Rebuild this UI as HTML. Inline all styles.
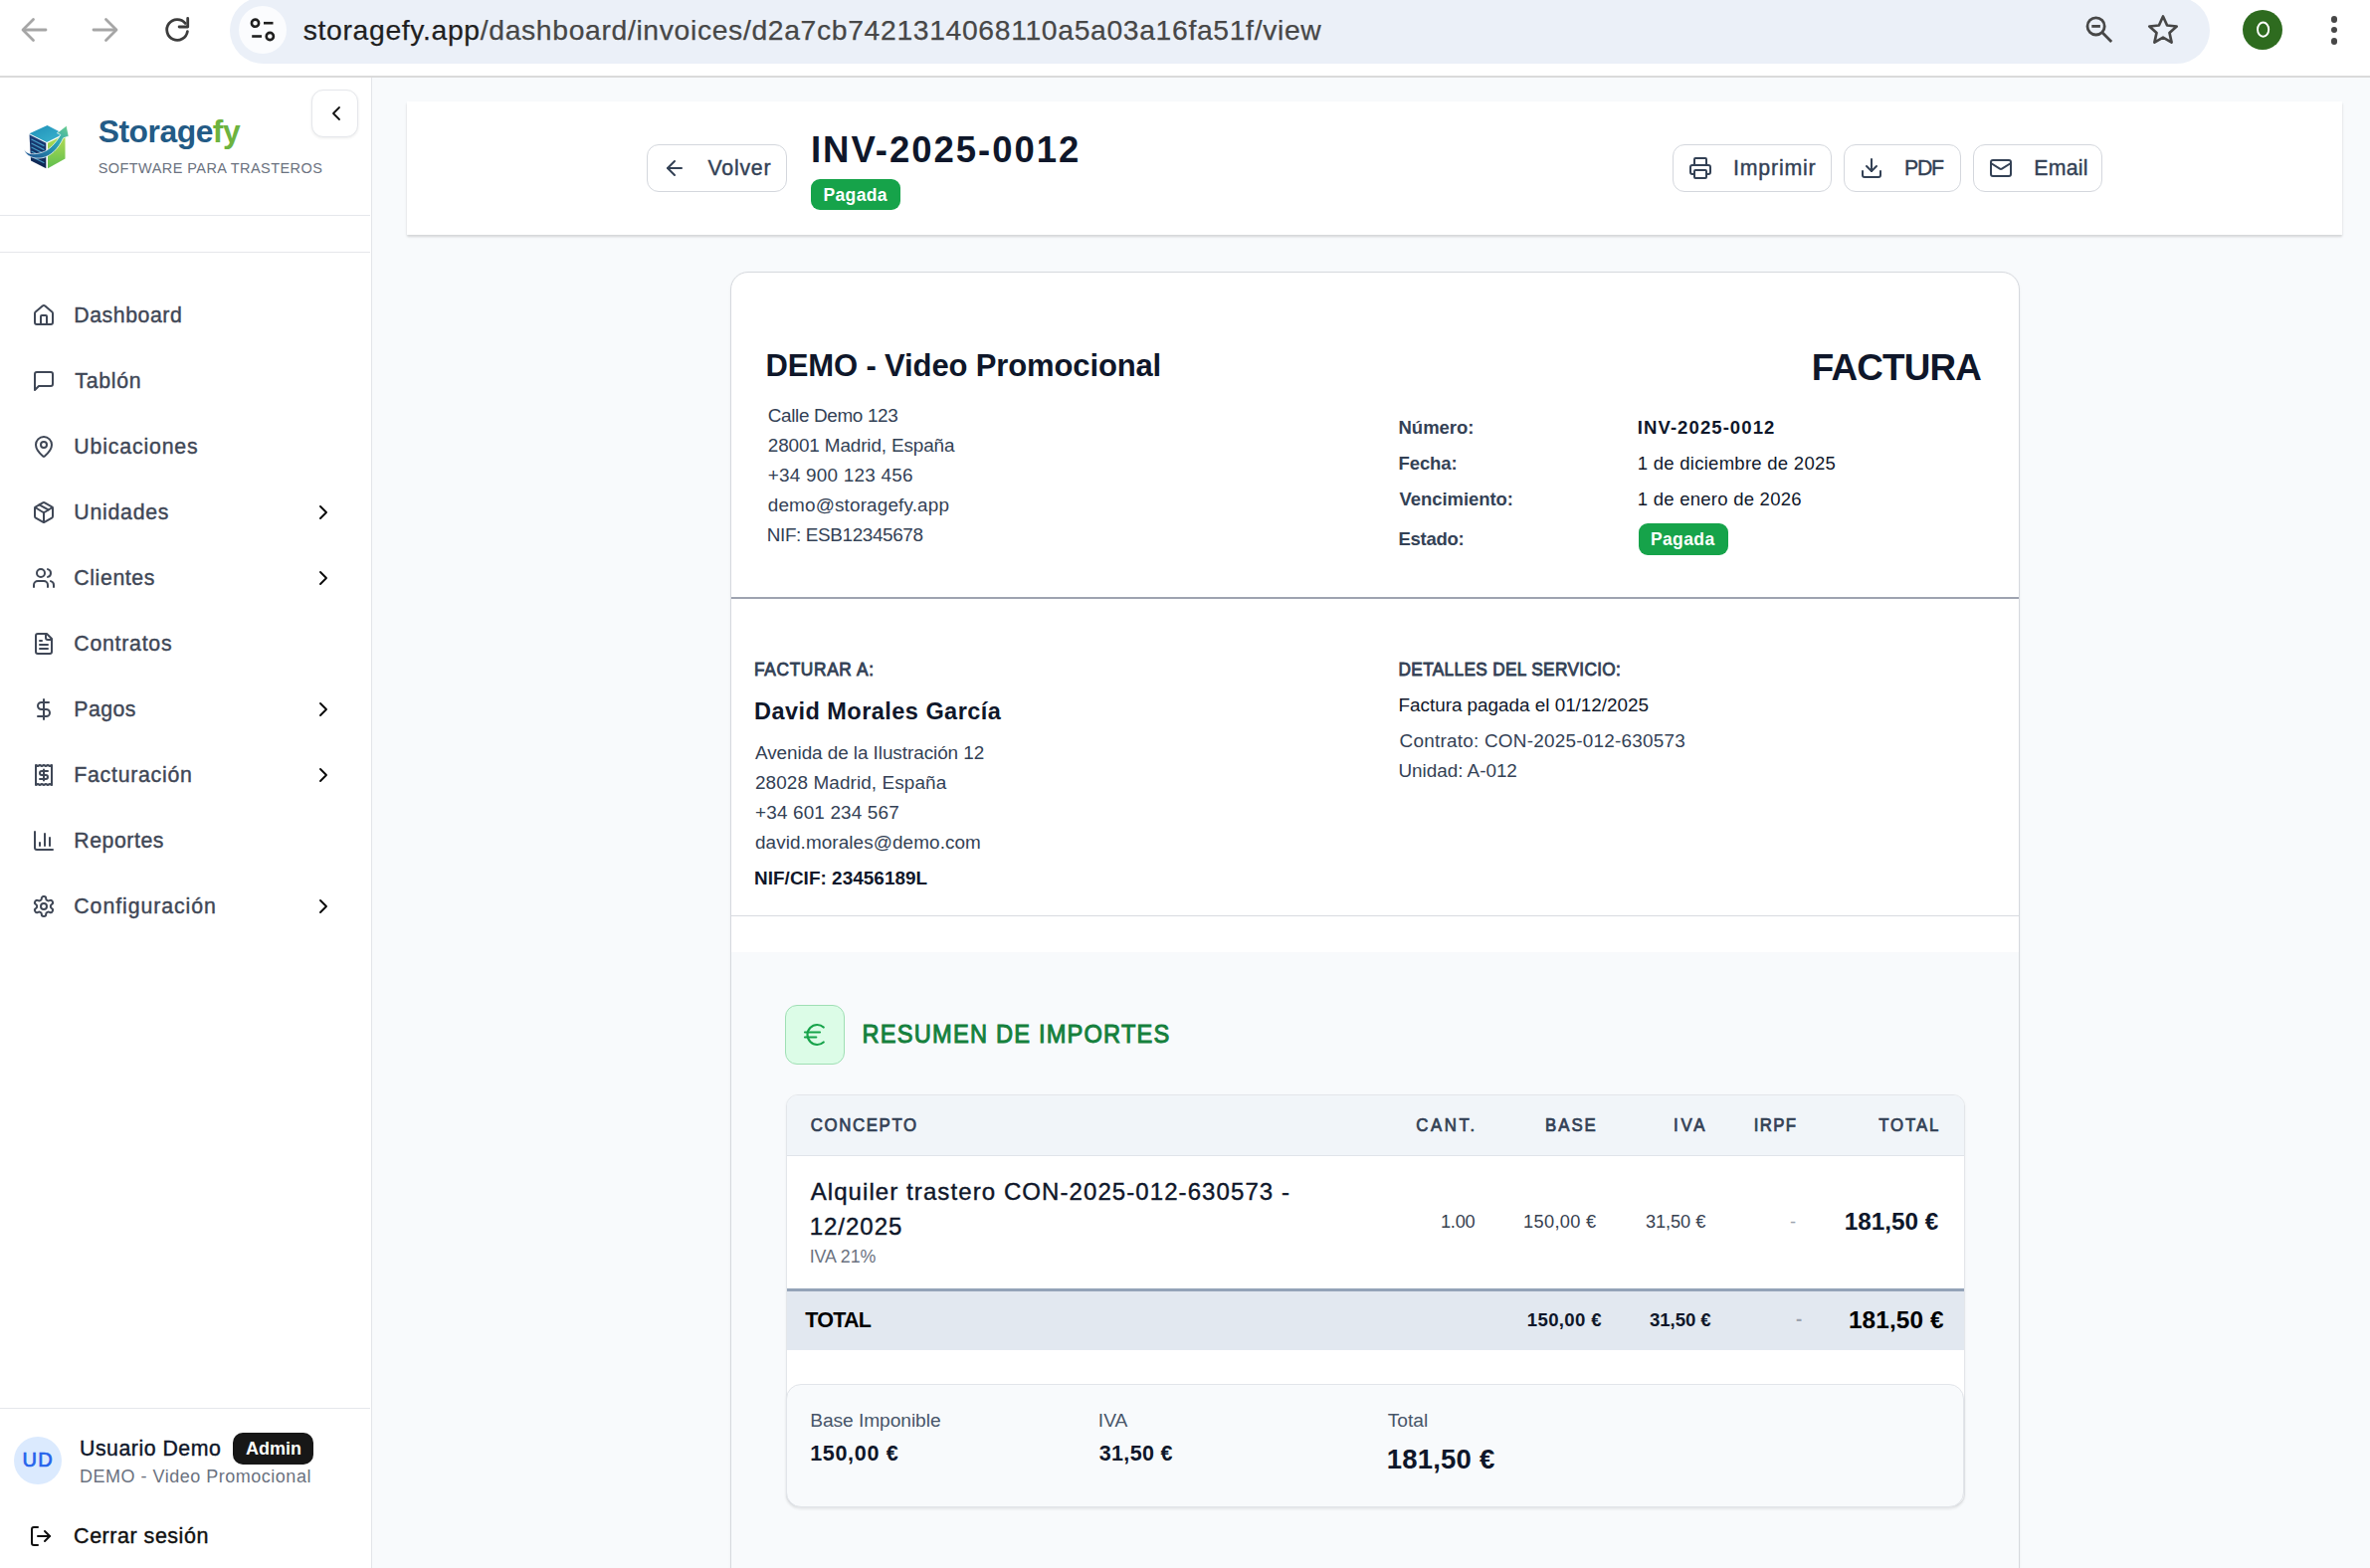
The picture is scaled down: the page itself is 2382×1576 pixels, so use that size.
<!DOCTYPE html>
<html><head><meta charset="utf-8">
<style>
*{box-sizing:border-box;margin:0;padding:0}
html,body{width:2382px;height:1576px;overflow:hidden;background:#f8fafc;font-family:"Liberation Sans",sans-serif}
.a{position:absolute}
.t{position:absolute;white-space:nowrap;line-height:1;font-family:"Liberation Sans",sans-serif}
svg.i{position:absolute;fill:none;stroke-linecap:round;stroke-linejoin:round}
</style></head><body>
<!-- browser chrome -->
<div class="a" style="left:0;top:0;width:2382px;height:76px;background:#fff"></div>
<div class="a" style="left:0;top:76px;width:2382px;height:2px;background:#dadada"></div>
<div class="a" style="left:231px;top:-3px;width:1990px;height:67px;border-radius:34px;background:#ebf0f8"></div>
<div class="a" style="left:240px;top:6px;width:48px;height:48px;border-radius:24px;background:#fbfcfe"></div>
<svg class="i" style="left:240px;top:6px" width="48" height="48" viewBox="0 0 48 48" stroke="#1f1f1f" stroke-width="2.6">
 <circle cx="16.5" cy="17.2" r="3.6"/><path d="M25 17.2h9.5" stroke-linecap="butt"/>
 <circle cx="31.3" cy="30.5" r="3.6"/><path d="M13.2 30.5h9.8" stroke-linecap="butt"/>
</svg>
<svg class="i" style="left:16px;top:12px" width="36" height="36" viewBox="0 0 36 36" stroke="#a6a6a6" stroke-width="2.8" stroke-linecap="butt" stroke-linejoin="miter">
 <path d="M30 18H8"/><path d="M17.5 7.5L7 18l10.5 10.5"/>
</svg>
<svg class="i" style="left:88px;top:12px" width="36" height="36" viewBox="0 0 36 36" stroke="#a6a6a6" stroke-width="2.8" stroke-linecap="butt" stroke-linejoin="miter">
 <path d="M6 18h22"/><path d="M18.5 7.5L29 18 18.5 28.5"/>
</svg>
<svg class="i" style="left:160px;top:12px" width="36" height="36" viewBox="0 0 36 36" stroke="#3c3c3c" stroke-width="2.8" stroke-linecap="butt" stroke-linejoin="miter">
 <path d="M28.4 19.6A10.4 10.4 0 1 1 26.2 11.4"/><path d="M28.7 6.4v8.6h-8.6"/>
</svg>
<svg class="i" style="left:2092px;top:12px" width="36" height="36" viewBox="0 0 36 36" stroke="#474747" stroke-width="2.8">
 <circle cx="14.6" cy="14.4" r="8.6"/><path d="M21 20.8l9.2 9.2" stroke-linecap="butt"/><path d="M10.3 14.4h8.6" stroke-linecap="butt"/>
</svg>
<svg class="i" style="left:2156px;top:12px" width="36" height="36" viewBox="0 0 36 36" stroke="#474747" stroke-width="2.7" stroke-linejoin="miter">
 <path d="M18 4.5l4.1 9 9.6 1-7.2 6.5 2.1 9.6L18 25.7l-8.6 4.9 2.1-9.6-7.2-6.5 9.6-1z"/>
</svg>
<div class="a" style="left:2254px;top:10px;width:40px;height:40px;border-radius:20px;background:#2e6b1f"></div>
<svg class="i" style="left:2254px;top:10px" width="40" height="40" viewBox="0 0 40 40" stroke="#fff" stroke-width="1.9"><ellipse cx="20.6" cy="19.6" rx="5.6" ry="7.1"/></svg>
<div class="a" style="left:2342.5px;top:16.3px;width:6.5px;height:6.5px;border-radius:4px;background:#474747"></div>
<div class="a" style="left:2342.5px;top:26.9px;width:6.5px;height:6.5px;border-radius:4px;background:#474747"></div>
<div class="a" style="left:2342.5px;top:38px;width:6.5px;height:6.5px;border-radius:4px;background:#474747"></div>

<!-- sidebar -->
<div class="a" style="left:0;top:78px;width:374px;height:1498px;background:#fff;border-right:1.5px solid #e3e5e9"></div>
<div class="a" style="left:0;top:216px;width:372px;height:1px;background:#e5e7eb"></div>
<div class="a" style="left:0;top:253px;width:372px;height:1px;background:#e5e7eb"></div>
<div class="a" style="left:0;top:1415px;width:372px;height:1px;background:#e5e7eb"></div>
<!-- logo -->
<svg class="a" style="left:20px;top:120px" width="54" height="54" viewBox="20 120 54 54">
 <defs>
  <linearGradient id="gt" x1="0" y1="0" x2="1" y2="1"><stop offset="0" stop-color="#1f8fb8"/><stop offset="1" stop-color="#3cb6cf"/></linearGradient>
  <linearGradient id="gl" x1="0" y1="0" x2="0" y2="1"><stop offset="0" stop-color="#1d3f7a"/><stop offset="1" stop-color="#0d2550"/></linearGradient>
  <linearGradient id="gr" x1="0" y1="0" x2="0" y2="1"><stop offset="0" stop-color="#b6dc55"/><stop offset="1" stop-color="#5fbf4e"/></linearGradient>
  <linearGradient id="gs" x1="0" y1="1" x2="1" y2="0"><stop offset="0" stop-color="#1c4e8f"/><stop offset=".6" stop-color="#2aa3b8"/><stop offset="1" stop-color="#6fd08a"/></linearGradient>
 </defs>
 <path d="M47.5 126L29.5 134.3 47 143 64 134.5z" fill="url(#gt)"/>
 <path d="M29.5 135.2L46.3 143.8V169.3L31 161.5z" fill="url(#gl)"/>
 <path d="M48 143.8L65.5 135.3V159.5L48 169.3z" fill="url(#gr)"/>
 <path d="M31.5 140l13 6.6M31.5 144l13 6.6M31.5 148l13 6.6M31.5 152l13 6.6M33 158l11.5 5.8" stroke="#4aa6cf" stroke-width="1.2" opacity=".9"/>
 <path d="M24.4 150.5C26 157 34 160.2 42 158.8C50.5 157.3 58.5 150 63.6 138.8L69.1 136.9 66.9 126.2 57.4 133.7 60.8 135.4C56 144 49.5 151 42 153.3 34 155.7 27.5 155.3 24.4 150.5z" fill="url(#gs)" stroke="#fff" stroke-width=".7"/>
</svg>
<!-- collapse button -->
<div class="a" style="left:313px;top:90px;width:47px;height:48px;border-radius:12px;background:#fff;border:1px solid #e5e7eb;box-shadow:0 1px 3px rgba(0,0,0,.08)"></div>
<svg class="i" style="left:325.5px;top:102px" width="24" height="24" viewBox="0 0 24 24" stroke="#111" stroke-width="1.8"><path d="m15 18-6-6 6-6"/></svg>
<!-- nav icons -->
<svg class="i" style="left:32px;top:305.2px" width="24" height="24" viewBox="0 0 24 24" stroke="#3f4756" stroke-width="2"><path d="M15 21v-8a1 1 0 0 0-1-1h-4a1 1 0 0 0-1 1v8"/><path d="M3 10a2 2 0 0 1 .709-1.528l7-5.999a2 2 0 0 1 2.582 0l7 5.999A2 2 0 0 1 21 10v9a2 2 0 0 1-2 2H5a2 2 0 0 1-2-2z"/></svg>
<svg class="i" style="left:32px;top:371.2px" width="24" height="24" viewBox="0 0 24 24" stroke="#3f4756" stroke-width="2"><path d="M21 15a2 2 0 0 1-2 2H7l-4 4V5a2 2 0 0 1 2-2h14a2 2 0 0 1 2 2z"/></svg>
<svg class="i" style="left:32px;top:437.2px" width="24" height="24" viewBox="0 0 24 24" stroke="#3f4756" stroke-width="2"><path d="M20 10c0 4.993-5.539 10.193-7.399 11.799a1 1 0 0 1-1.202 0C9.539 20.193 4 14.993 4 10a8 8 0 0 1 16 0"/><circle cx="12" cy="10" r="3"/></svg>
<svg class="i" style="left:32px;top:503.2px" width="24" height="24" viewBox="0 0 24 24" stroke="#3f4756" stroke-width="2"><path d="M11 21.73a2 2 0 0 0 2 0l7-4A2 2 0 0 0 21 16V8a2 2 0 0 0-1-1.73l-7-4a2 2 0 0 0-2 0l-7 4A2 2 0 0 0 3 8v8a2 2 0 0 0 1 1.73z"/><path d="M12 22V12"/><path d="m3.3 7 7.703 4.734a2 2 0 0 0 1.994 0L20.7 7"/><path d="m7.5 4.27 9 5.15"/></svg>
<svg class="i" style="left:312.8px;top:503.2px" width="24" height="24" viewBox="0 0 24 24" stroke="#0a0a0a" stroke-width="1.9"><path d="m9 18 6-6-6-6"/></svg>
<svg class="i" style="left:32px;top:569.2px" width="24" height="24" viewBox="0 0 24 24" stroke="#3f4756" stroke-width="2"><path d="M16 21v-2a4 4 0 0 0-4-4H6a4 4 0 0 0-4 4v2"/><circle cx="9" cy="7" r="4"/><path d="M22 21v-2a4 4 0 0 0-3-3.87"/><path d="M16 3.13a4 4 0 0 1 0 7.75"/></svg>
<svg class="i" style="left:312.8px;top:569.2px" width="24" height="24" viewBox="0 0 24 24" stroke="#0a0a0a" stroke-width="1.9"><path d="m9 18 6-6-6-6"/></svg>
<svg class="i" style="left:32px;top:635.2px" width="24" height="24" viewBox="0 0 24 24" stroke="#3f4756" stroke-width="2"><path d="M15 2H6a2 2 0 0 0-2 2v16a2 2 0 0 0 2 2h12a2 2 0 0 0 2-2V7Z"/><path d="M14 2v4a2 2 0 0 0 2 2h4"/><path d="M10 9H8"/><path d="M16 13H8"/><path d="M16 17H8"/></svg>
<svg class="i" style="left:32px;top:701.2px" width="24" height="24" viewBox="0 0 24 24" stroke="#3f4756" stroke-width="2"><line x1="12" x2="12" y1="2" y2="22"/><path d="M17 5H9.5a3.5 3.5 0 0 0 0 7h5a3.5 3.5 0 0 1 0 7H6"/></svg>
<svg class="i" style="left:312.8px;top:701.2px" width="24" height="24" viewBox="0 0 24 24" stroke="#0a0a0a" stroke-width="1.9"><path d="m9 18 6-6-6-6"/></svg>
<svg class="i" style="left:32px;top:767.2px" width="24" height="24" viewBox="0 0 24 24" stroke="#3f4756" stroke-width="2"><path d="M4 2v20l2-1 2 1 2-1 2 1 2-1 2 1 2-1 2 1V2l-2 1-2-1-2 1-2-1-2 1-2-1-2 1Z"/><path d="M16 8h-6a2 2 0 1 0 0 4h4a2 2 0 1 1 0 4H8"/><path d="M12 17.5v-11"/></svg>
<svg class="i" style="left:312.8px;top:767.2px" width="24" height="24" viewBox="0 0 24 24" stroke="#0a0a0a" stroke-width="1.9"><path d="m9 18 6-6-6-6"/></svg>
<svg class="i" style="left:32px;top:833.2px" width="24" height="24" viewBox="0 0 24 24" stroke="#3f4756" stroke-width="2"><path d="M3 3v16a2 2 0 0 0 2 2h16"/><path d="M18 17V9"/><path d="M13 17V5"/><path d="M8 17v-3"/></svg>
<svg class="i" style="left:32px;top:899.2px" width="24" height="24" viewBox="0 0 24 24" stroke="#3f4756" stroke-width="2"><path d="M12.22 2h-.44a2 2 0 0 0-2 2v.18a2 2 0 0 1-1 1.73l-.43.25a2 2 0 0 1-2 0l-.15-.08a2 2 0 0 0-2.73.73l-.22.38a2 2 0 0 0 .73 2.73l.15.1a2 2 0 0 1 1 1.72v.51a2 2 0 0 1-1 1.74l-.15.09a2 2 0 0 0-.73 2.73l.22.38a2 2 0 0 0 2.73.73l.15-.08a2 2 0 0 1 2 0l.43.25a2 2 0 0 1 1 1.73V20a2 2 0 0 0 2 2h.44a2 2 0 0 0 2-2v-.18a2 2 0 0 1 1-1.73l.43-.25a2 2 0 0 1 2 0l.15.08a2 2 0 0 0 2.73-.73l.22-.39a2 2 0 0 0-.73-2.73l-.15-.08a2 2 0 0 1-1-1.74v-.5a2 2 0 0 1 1-1.74l.15-.09a2 2 0 0 0 .73-2.73l-.22-.38a2 2 0 0 0-2.73-.73l-.15.08a2 2 0 0 1-2 0l-.43-.25a2 2 0 0 1-1-1.73V4a2 2 0 0 0-2-2z"/><circle cx="12" cy="12" r="3"/></svg>
<svg class="i" style="left:312.8px;top:899.2px" width="24" height="24" viewBox="0 0 24 24" stroke="#0a0a0a" stroke-width="1.9"><path d="m9 18 6-6-6-6"/></svg>
<!-- user -->
<div class="a" style="left:14px;top:1444px;width:48px;height:48px;border-radius:24px;background:#dbeafe"></div>
<div class="a" style="left:234px;top:1440px;width:81px;height:32px;border-radius:10px;background:#171717"></div>
<svg class="i" style="left:29px;top:1532.3px" width="24" height="24" viewBox="0 0 24 24" stroke="#111" stroke-width="2"><path d="M9 21H5a2 2 0 0 1-2-2V5a2 2 0 0 1 2-2h4"/><polyline points="16 17 21 12 16 7"/><line x1="21" x2="9" y1="12" y2="12"/></svg>

<!-- header card -->
<div class="a" style="left:409px;top:102px;width:1945px;height:134px;background:#fff;box-shadow:0 1.5px 2px rgba(0,0,0,.12),0 2px 4px rgba(0,0,0,.04)"></div>
<div class="a" style="left:650px;top:145px;width:141px;height:48px;border-radius:12px;background:#fff;border:1.5px solid #d4d7dd"></div>
<svg class="i" style="left:666px;top:157px" width="24" height="24" viewBox="0 0 24 24" stroke="#334155" stroke-width="2"><path d="m12 19-7-7 7-7"/><path d="M19 12H5"/></svg>
<div class="a" style="left:815px;top:180px;width:90px;height:31px;border-radius:9px;background:#16a34a"></div>
<div class="a" style="left:1681px;top:145px;width:160px;height:48px;border-radius:12px;background:#fff;border:1.5px solid #d4d7dd"></div>
<div class="a" style="left:1853px;top:145px;width:118px;height:48px;border-radius:12px;background:#fff;border:1.5px solid #d4d7dd"></div>
<div class="a" style="left:1983px;top:145px;width:130px;height:48px;border-radius:12px;background:#fff;border:1.5px solid #d4d7dd"></div>
<svg class="i" style="left:1696.8px;top:156.8px" width="24" height="24" viewBox="0 0 24 24" stroke="#334155" stroke-width="2"><path d="M6 18H4a2 2 0 0 1-2-2v-5a2 2 0 0 1 2-2h16a2 2 0 0 1 2 2v5a2 2 0 0 1-2 2h-2"/><path d="M6 9V3a1 1 0 0 1 1-1h10a1 1 0 0 1 1 1v6"/><rect x="6" y="14" width="12" height="8" rx="1"/></svg>
<svg class="i" style="left:1869px;top:157px" width="24" height="24" viewBox="0 0 24 24" stroke="#334155" stroke-width="2"><path d="M21 15v4a2 2 0 0 1-2 2H5a2 2 0 0 1-2-2v-4"/><polyline points="7 10 12 15 17 10"/><line x1="12" x2="12" y1="15" y2="3"/></svg>
<svg class="i" style="left:1998.7px;top:156.8px" width="24" height="24" viewBox="0 0 24 24" stroke="#334155" stroke-width="2"><rect width="20" height="16" x="2" y="4" rx="2"/><path d="m22 7-8.97 5.7a1.94 1.94 0 0 1-2.06 0L2 7"/></svg>

<!-- invoice card -->
<div class="a" style="left:734px;top:273px;width:1296px;height:1400px;border-radius:18px;background:#fff;border:1.5px solid #d6d9de;box-shadow:0 1px 3px rgba(0,0,0,.06);overflow:hidden">
  <div class="a" style="left:0;top:326px;width:1296px;height:1.5px;background:#9ea3b0"></div>
  <div class="a" style="left:0;top:645.5px;width:1296px;height:1.5px;background:#d8dbe0"></div>
  <div class="a" style="left:0;top:683px;width:1296px;height:800px;background:#f8fafc"></div>
</div>
<div class="a" style="left:1646.8px;top:526px;width:90px;height:31.5px;border-radius:9px;background:#16a34a"></div>
<!-- resumen -->
<div class="a" style="left:789px;top:1010px;width:60px;height:60px;border-radius:12px;background:#dcfce7;border:1.2px solid #9fdfb4"></div>
<svg class="i" style="left:804px;top:1024.85px" width="30" height="30" viewBox="0 0 24 24" stroke="#16a34a" stroke-width="1.75"><path d="M4 10h12"/><path d="M4 14h9"/><path d="M19 6a7.7 7.7 0 0 0-5.2-2A7.9 7.9 0 0 0 6 12c0 4.4 3.5 8 7.8 8 2 0 3.8-.8 5.2-2"/></svg>
<div class="a" style="left:789.5px;top:1099.8px;width:1185px;height:414.7px;border-radius:12px;background:#fff;border:1px solid #e3e6ea;box-shadow:0 1px 3px rgba(0,0,0,.05);overflow:hidden">
  <div class="a" style="left:0;top:0;width:1185px;height:61.2px;background:#f1f5f9;border-bottom:1.5px solid #e0e4ea"></div>
  <div class="a" style="left:0;top:194.2px;width:1185px;height:3px;background:#94a3b8"></div>
  <div class="a" style="left:0;top:197.2px;width:1185px;height:59.5px;background:#e2e8f0"></div>
</div>
<div class="a" style="left:790px;top:1391px;width:1184px;height:123.5px;border-radius:15px;background:#f8fafc;border:1.5px solid #e2e5ea;box-shadow:0 2px 3px rgba(0,0,0,.07)"></div>

<div class="t" style="left:304.80px;top:16.14px;font-size:28.30px;font-weight:400;color:#1f1f1f;letter-spacing:0.658px;-webkit-text-stroke:0.25px currentColor;">storagefy.app<span style="color:#474747">/dashboard/invoices/d2a7cb7421314068110a5a03a16fa51f/view</span></div>
<div class="t" style="left:98.70px;top:117.07px;font-size:31.80px;font-weight:700;color:#235b86;letter-spacing:-0.459px;">Storage<span style="color:#6db33f">fy</span></div>
<div class="t" style="left:98.70px;top:162.12px;font-size:14.50px;font-weight:400;color:#6b7280;letter-spacing:0.434px;">SOFTWARE PARA TRASTEROS</div>
<div class="t" style="left:74.30px;top:307.17px;font-size:21.30px;font-weight:400;color:#3f4756;letter-spacing:0.545px;-webkit-text-stroke:0.4px currentColor;">Dashboard</div>
<div class="t" style="left:75.30px;top:373.17px;font-size:21.30px;font-weight:400;color:#3f4756;letter-spacing:0.697px;-webkit-text-stroke:0.4px currentColor;">Tablón</div>
<div class="t" style="left:74.30px;top:439.17px;font-size:21.30px;font-weight:400;color:#3f4756;letter-spacing:0.834px;-webkit-text-stroke:0.4px currentColor;">Ubicaciones</div>
<div class="t" style="left:74.30px;top:505.17px;font-size:21.30px;font-weight:400;color:#3f4756;letter-spacing:0.738px;-webkit-text-stroke:0.4px currentColor;">Unidades</div>
<div class="t" style="left:74.30px;top:571.17px;font-size:21.30px;font-weight:400;color:#3f4756;letter-spacing:0.601px;-webkit-text-stroke:0.4px currentColor;">Clientes</div>
<div class="t" style="left:74.30px;top:637.17px;font-size:21.30px;font-weight:400;color:#3f4756;letter-spacing:0.740px;-webkit-text-stroke:0.4px currentColor;">Contratos</div>
<div class="t" style="left:74.30px;top:703.17px;font-size:21.30px;font-weight:400;color:#3f4756;letter-spacing:0.416px;-webkit-text-stroke:0.4px currentColor;">Pagos</div>
<div class="t" style="left:74.30px;top:769.17px;font-size:21.30px;font-weight:400;color:#3f4756;letter-spacing:0.728px;-webkit-text-stroke:0.4px currentColor;">Facturación</div>
<div class="t" style="left:74.30px;top:835.17px;font-size:21.30px;font-weight:400;color:#3f4756;letter-spacing:0.533px;-webkit-text-stroke:0.4px currentColor;">Reportes</div>
<div class="t" style="left:74.30px;top:901.17px;font-size:21.30px;font-weight:400;color:#3f4756;letter-spacing:0.928px;-webkit-text-stroke:0.4px currentColor;">Configuración</div>
<div class="t" style="left:80.00px;top:1445.77px;font-size:21.30px;font-weight:400;color:#0f172a;letter-spacing:0.521px;-webkit-text-stroke:0.4px currentColor;">Usuario Demo</div>
<div class="t" style="left:247.00px;top:1447.26px;font-size:18.00px;font-weight:700;color:#ffffff;">Admin</div>
<div class="t" style="left:80.00px;top:1474.76px;font-size:18.00px;font-weight:400;color:#6b7280;letter-spacing:0.506px;">DEMO - Video Promocional</div>
<div class="t" style="left:22.60px;top:1457.47px;font-size:20.00px;font-weight:400;color:#2563eb;letter-spacing:1.257px;-webkit-text-stroke:0.7px currentColor;">UD</div>
<div class="t" style="left:74.10px;top:1534.20px;font-size:21.50px;font-weight:400;color:#111111;letter-spacing:0.518px;-webkit-text-stroke:0.4px currentColor;">Cerrar sesión</div>
<div class="t" style="left:711.60px;top:158.77px;font-size:21.30px;font-weight:400;color:#334155;letter-spacing:0.740px;-webkit-text-stroke:0.4px currentColor;">Volver</div>
<div class="t" style="left:815.00px;top:133.10px;font-size:36.50px;font-weight:700;color:#0f172a;letter-spacing:1.980px;">INV-2025-0012</div>
<div class="t" style="left:827.50px;top:187.98px;font-size:17.50px;font-weight:700;color:#ffffff;letter-spacing:0.357px;">Pagada</div>
<div class="t" style="left:1742.00px;top:158.77px;font-size:21.30px;font-weight:400;color:#334155;letter-spacing:0.829px;-webkit-text-stroke:0.4px currentColor;">Imprimir</div>
<div class="t" style="left:1914.00px;top:158.77px;font-size:21.30px;font-weight:400;color:#334155;letter-spacing:-1.292px;-webkit-text-stroke:0.4px currentColor;">PDF</div>
<div class="t" style="left:2044.30px;top:158.77px;font-size:21.30px;font-weight:400;color:#334155;letter-spacing:0.220px;-webkit-text-stroke:0.4px currentColor;">Email</div>
<div class="t" style="left:769.50px;top:352.05px;font-size:31.00px;font-weight:700;color:#0f172a;letter-spacing:-0.132px;">DEMO - Video Promocional</div>
<div class="t" style="left:771.80px;top:409.00px;font-size:18.90px;font-weight:400;color:#334155;letter-spacing:-0.350px;">Calle Demo 123</div>
<div class="t" style="left:771.80px;top:439.00px;font-size:18.90px;font-weight:400;color:#334155;letter-spacing:-0.125px;">28001 Madrid, España</div>
<div class="t" style="left:771.80px;top:469.00px;font-size:18.90px;font-weight:400;color:#334155;letter-spacing:0.233px;">+34 900 123 456</div>
<div class="t" style="left:771.80px;top:499.00px;font-size:18.90px;font-weight:400;color:#334155;letter-spacing:0.153px;">demo@storagefy.app</div>
<div class="t" style="left:770.80px;top:529.00px;font-size:18.90px;font-weight:400;color:#334155;letter-spacing:-0.371px;">NIF: ESB12345678</div>
<div class="t" style="left:1820.80px;top:352.34px;font-size:36.80px;font-weight:700;color:#0f172a;letter-spacing:-0.803px;">FACTURA</div>
<div class="t" style="left:1405.50px;top:421.34px;font-size:18.50px;font-weight:700;color:#334155;letter-spacing:-0.016px;">Número:</div>
<div class="t" style="left:1405.50px;top:456.54px;font-size:18.50px;font-weight:700;color:#334155;letter-spacing:-0.094px;">Fecha:</div>
<div class="t" style="left:1406.50px;top:492.94px;font-size:18.50px;font-weight:700;color:#334155;letter-spacing:-0.062px;">Vencimiento:</div>
<div class="t" style="left:1405.50px;top:532.74px;font-size:18.50px;font-weight:700;color:#334155;letter-spacing:-0.280px;">Estado:</div>
<div class="t" style="left:1645.80px;top:421.34px;font-size:18.50px;font-weight:700;color:#0f172a;letter-spacing:1.087px;">INV-2025-0012</div>
<div class="t" style="left:1645.80px;top:456.54px;font-size:18.50px;font-weight:400;color:#0f172a;letter-spacing:0.268px;">1 de diciembre de 2025</div>
<div class="t" style="left:1645.80px;top:492.94px;font-size:18.50px;font-weight:400;color:#0f172a;letter-spacing:0.248px;">1 de enero de 2026</div>
<div class="t" style="left:1658.90px;top:533.78px;font-size:17.50px;font-weight:700;color:#ffffff;letter-spacing:0.397px;">Pagada</div>
<div class="t" style="left:758.00px;top:664.78px;font-size:17.27px;font-weight:400;color:#334155;transform:scaleY(1.1);transform-origin:0 84.67%;letter-spacing:0.684px;-webkit-text-stroke:0.8px currentColor;">FACTURAR A:</div>
<div class="t" style="left:758.00px;top:703.60px;font-size:23.50px;font-weight:700;color:#0f172a;letter-spacing:0.465px;">David Morales García</div>
<div class="t" style="left:759.00px;top:747.80px;font-size:18.90px;font-weight:400;color:#334155;letter-spacing:-0.057px;">Avenida de la Ilustración 12</div>
<div class="t" style="left:759.00px;top:778.10px;font-size:18.90px;font-weight:400;color:#334155;letter-spacing:0.112px;">28028 Madrid, España</div>
<div class="t" style="left:759.00px;top:807.60px;font-size:18.90px;font-weight:400;color:#334155;letter-spacing:0.169px;">+34 601 234 567</div>
<div class="t" style="left:759.00px;top:837.80px;font-size:18.90px;font-weight:400;color:#334155;letter-spacing:0.089px;">david.morales@demo.com</div>
<div class="t" style="left:758.00px;top:873.60px;font-size:18.90px;font-weight:700;color:#0f172a;letter-spacing:0.053px;">NIF/CIF: 23456189L</div>
<div class="t" style="left:1405.50px;top:664.78px;font-size:17.27px;font-weight:400;color:#334155;transform:scaleY(1.1);transform-origin:0 84.67%;letter-spacing:0.325px;-webkit-text-stroke:0.8px currentColor;">DETALLES DEL SERVICIO:</div>
<div class="t" style="left:1405.50px;top:700.10px;font-size:18.90px;font-weight:400;color:#0f172a;letter-spacing:-0.021px;">Factura pagada el 01/12/2025</div>
<div class="t" style="left:1406.50px;top:736.40px;font-size:18.90px;font-weight:400;color:#334155;letter-spacing:0.247px;">Contrato: CON-2025-012-630573</div>
<div class="t" style="left:1405.50px;top:766.00px;font-size:18.90px;font-weight:400;color:#334155;letter-spacing:-0.030px;">Unidad: A-012</div>
<div class="t" style="left:866.60px;top:1028.69px;font-size:23.64px;font-weight:400;color:#15803d;transform:scaleY(1.1);transform-origin:0 84.67%;letter-spacing:1.201px;-webkit-text-stroke:0.9px currentColor;">RESUMEN DE IMPORTES</div>
<div class="t" style="left:814.70px;top:1123.96px;font-size:16.82px;font-weight:400;color:#334155;transform:scaleY(1.07);transform-origin:0 84.67%;letter-spacing:1.629px;-webkit-text-stroke:0.7px currentColor;">CONCEPTO</div>
<div class="t" style="left:1423.20px;top:1123.96px;font-size:16.82px;font-weight:400;color:#334155;transform:scaleY(1.07);transform-origin:0 84.67%;letter-spacing:2.624px;-webkit-text-stroke:0.7px currentColor;">CANT.</div>
<div class="t" style="left:1553.00px;top:1123.96px;font-size:16.82px;font-weight:400;color:#334155;transform:scaleY(1.07);transform-origin:0 84.67%;letter-spacing:1.986px;-webkit-text-stroke:0.7px currentColor;">BASE</div>
<div class="t" style="left:1682.00px;top:1123.96px;font-size:16.82px;font-weight:400;color:#334155;transform:scaleY(1.07);transform-origin:0 84.67%;letter-spacing:2.782px;-webkit-text-stroke:0.7px currentColor;">IVA</div>
<div class="t" style="left:1762.70px;top:1123.96px;font-size:16.82px;font-weight:400;color:#334155;transform:scaleY(1.07);transform-origin:0 84.67%;letter-spacing:1.325px;-webkit-text-stroke:0.7px currentColor;">IRPF</div>
<div class="t" style="left:1888.20px;top:1123.96px;font-size:16.82px;font-weight:400;color:#334155;transform:scaleY(1.07);transform-origin:0 84.67%;letter-spacing:1.905px;-webkit-text-stroke:0.7px currentColor;">TOTAL</div>
<div class="t" style="left:814.70px;top:1185.68px;font-size:24.00px;font-weight:400;color:#0f172a;letter-spacing:1.081px;-webkit-text-stroke:0.4px currentColor;">Alquiler trastero CON-2025-012-630573 -</div>
<div class="t" style="left:813.70px;top:1221.28px;font-size:24.00px;font-weight:400;color:#0f172a;letter-spacing:0.982px;-webkit-text-stroke:0.4px currentColor;">12/2025</div>
<div class="t" style="left:813.70px;top:1255.43px;font-size:17.80px;font-weight:400;color:#6b7280;letter-spacing:-0.043px;">IVA 21%</div>
<div class="t" style="left:1447.90px;top:1218.59px;font-size:18.20px;font-weight:400;color:#374151;letter-spacing:-0.194px;">1.00</div>
<div class="t" style="left:1531.00px;top:1218.59px;font-size:18.20px;font-weight:400;color:#374151;letter-spacing:0.346px;">150,00 €</div>
<div class="t" style="left:1653.90px;top:1218.59px;font-size:18.20px;font-weight:400;color:#374151;letter-spacing:-0.044px;">31,50 €</div>
<div class="t" style="left:1799.00px;top:1218.59px;font-size:18.20px;font-weight:400;color:#9ca3af;">-</div>
<div class="t" style="left:1853.80px;top:1215.83px;font-size:24.30px;font-weight:700;color:#0f172a;letter-spacing:-0.024px;">181,50 €</div>
<div class="t" style="left:809.30px;top:1316.80px;font-size:21.50px;font-weight:700;color:#000000;letter-spacing:-0.783px;">TOTAL</div>
<div class="t" style="left:1534.80px;top:1318.05px;font-size:18.60px;font-weight:700;color:#0f172a;letter-spacing:0.338px;">150,00 €</div>
<div class="t" style="left:1658.00px;top:1318.05px;font-size:18.60px;font-weight:700;color:#0f172a;letter-spacing:-0.066px;">31,50 €</div>
<div class="t" style="left:1805.00px;top:1317.15px;font-size:18.60px;font-weight:700;color:#9ca3af;">-</div>
<div class="t" style="left:1857.90px;top:1314.74px;font-size:24.40px;font-weight:700;color:#000000;letter-spacing:0.103px;">181,50 €</div>
<div class="t" style="left:814.20px;top:1418.14px;font-size:19.20px;font-weight:400;color:#475569;letter-spacing:-0.068px;">Base Imponible</div>
<div class="t" style="left:814.20px;top:1450.80px;font-size:21.50px;font-weight:700;color:#0f172a;letter-spacing:0.681px;">150,00 €</div>
<div class="t" style="left:1103.80px;top:1418.14px;font-size:19.20px;font-weight:400;color:#475569;">IVA</div>
<div class="t" style="left:1104.80px;top:1450.80px;font-size:21.50px;font-weight:700;color:#0f172a;letter-spacing:0.321px;">31,50 €</div>
<div class="t" style="left:1394.70px;top:1418.14px;font-size:19.20px;font-weight:400;color:#475569;">Total</div>
<div class="t" style="left:1393.70px;top:1452.62px;font-size:27.50px;font-weight:700;color:#0f172a;letter-spacing:0.221px;">181,50 €</div>
</body></html>
